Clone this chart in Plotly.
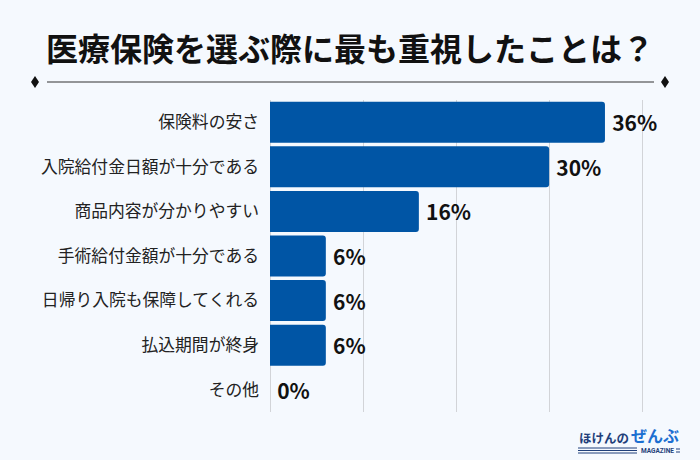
import plotly.graph_objects as go

categories = ["保険料の安さ", "入院給付金日額が十分である", "商品内容が分かりやすい",
              "手術給付金額が十分である", "日帰り入院も保障してくれる", "払込期間が終身", "その他"]
values = [36, 30, 16, 6, 6, 6, 0]
value_labels = ["36%", "30%", "16%", "6%", "6%", "6%", "0%"]
title_text = "医療保険を選ぶ際に最も重視したことは？"

FONT = "Noto Sans CJK JP"
BG = "#F5F9FE"
BAR = "#0055A5"

fig = go.Figure()
fig.add_trace(go.Bar(
    y=categories, x=values, orientation="h",
    marker=dict(color=BAR, cornerradius=3, line=dict(width=0)),
    text=["\u2009" + t for t in value_labels], textposition="outside",
    textfont=dict(family=FONT, size=21, color="#111111", weight="bold"),
    cliponaxis=False, width=0.92, hoverinfo="skip",
))

fig.update_layout(
    width=700, height=460,
    paper_bgcolor=BG, plot_bgcolor=BG,
    margin=dict(l=270, r=2, t=100, b=48),
    showlegend=False,
    font=dict(family=FONT),
    xaxis=dict(range=[0, 46], dtick=10, showticklabels=False, showgrid=True,
               gridcolor="#D2D4D8", gridwidth=1, zeroline=True, zerolinecolor="#D2D4D8",
               zerolinewidth=1, fixedrange=True),
    yaxis=dict(autorange="reversed", tickfont=dict(family=FONT, size=16.8, color="#222222"),
               ticks="", ticklabelstandoff=10, showgrid=False, zeroline=False, fixedrange=True),
    bargap=0.07,
)

def px(xp):
    return (xp - 270) / 428
def py(yp):
    return (460 - 48 - yp) / 312

# Title
fig.add_annotation(text=title_text, xref="paper", yref="paper", x=px(350), y=py(47),
                   xanchor="center", yanchor="middle", showarrow=False,
                   font=dict(family=FONT, size=32, color="#111111", weight="bold"))

# Separator line with diamonds
fig.add_shape(type="line", xref="paper", yref="paper", x0=px(47), x1=px(654), y0=py(82), y1=py(82),
              line=dict(color="#333333", width=1.2))
for cx in (35, 665):
    fig.add_shape(type="path", xref="paper", yref="paper",
                  path=f"M {px(cx-4)} {py(82)} L {px(cx)} {py(76)} L {px(cx+4)} {py(82)} L {px(cx)} {py(88)} Z",
                  fillcolor="#111111", line=dict(width=0))

# Logo
fig.add_annotation(text="ほけんの", xref="paper", yref="paper", x=px(577), y=py(437), xanchor="left",
                   yanchor="middle", showarrow=False, font=dict(family=FONT, size=12.5, color="#1F3F7A", weight="bold"))
fig.add_annotation(text="ぜんぶ", xref="paper", yref="paper", x=px(629), y=py(435), xanchor="left",
                   yanchor="middle", showarrow=False, font=dict(family=FONT, size=16, color="#1C6FD1", weight="bold"))
fig.add_annotation(text="MAGAZINE", xref="paper", yref="paper", x=px(639), y=py(450.5), xanchor="left",
                   yanchor="middle", showarrow=False, font=dict(family="Roboto", size=6.5, color="#1F3F7A", weight="bold"))
for yy in (448, 450.5, 453):
    fig.add_shape(type="line", xref="paper", yref="paper", x0=px(578), x1=px(637), y0=py(yy), y1=py(yy),
                  line=dict(color="#1F3F7A", width=1))
for yy in (449, 452):
    fig.add_shape(type="line", xref="paper", yref="paper", x0=px(676), x1=px(680), y0=py(yy), y1=py(yy),
                  line=dict(color="#1F3F7A", width=1))

fig.write_html("out.html", config={"displayModeBar": False, "staticPlot": True},
               post_script="document.body.style.margin='0';document.body.style.overflow='hidden';")
